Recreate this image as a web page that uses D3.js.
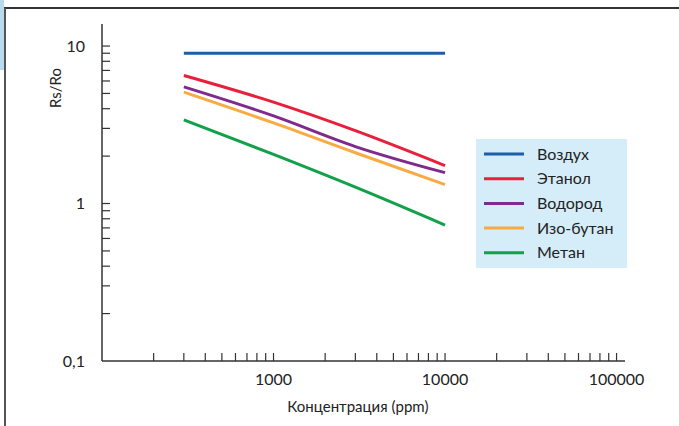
<!DOCTYPE html>
<html>
<head>
<meta charset="utf-8">
<script src="https://cdn.jsdelivr.net/npm/d3@7"></script>
<style>
  body { margin: 0; background: #fff; }
  text { font-family: Lato, "Open Sans", sans-serif; fill: #222; }
</style>
</head>
<body>
<div class="canvas"></div>
<script>
// data
const ppm = [300, 1000, 3000, 10000];
const air      = [9.0, 9.0, 9.0, 9.0];
const ethanol  = [6.5, 4.4, 2.9, 1.74];
const hydrogen = [5.5, 3.6, 2.3, 1.57];
const isobutane = [5.1, 3.25, 2.1, 1.32];
const methane  = [3.4, 2.05, 1.27, 0.73];

const seriesNames = ["Воздух", "Этанол", "Водород", "Изо-бутан", "Метан"];
const seriesValues = [air, ethanol, hydrogen, isobutane, methane];
const colors = ["#1b5fa8", "#e8203c", "#7f2b8e", "#f8aa45", "#12a14b"];

const xTickLabels = [1000, 10000, 100000];
const yTickLabels = [0.1, 1, 10];

const svg = d3.select(".canvas")
              .append("svg")
              .attr("width", 679)
              .attr("height", 426);

// frame
svg.append("rect").attr("x", 0).attr("y", 0).attr("width", 4).attr("height", 70).attr("fill", "#b9d9ec");
svg.append("line").attr("x1", 4).attr("x2", 679).attr("y1", 8).attr("y2", 8)
   .attr("stroke", "#333").attr("stroke-width", 2);
svg.append("line").attr("x1", 5).attr("x2", 5).attr("y1", 8).attr("y2", 426)
   .attr("stroke", "#555").attr("stroke-width", 2);

const x = d3.scaleLog().domain([100, 112000]).range([102, 625]);
const y = d3.scaleLog().domain([0.1, 13.8]).range([361, 24]);

// axes lines
svg.append("line").attr("x1", x.range()[0]).attr("x2", x.range()[1])
   .attr("y1", 361).attr("y2", 361).attr("stroke", "#333").attr("stroke-width", 1.5);
svg.append("line").attr("x1", 102).attr("x2", 102)
   .attr("y1", y.range()[1]).attr("y2", 361).attr("stroke", "#333").attr("stroke-width", 1.5);

// x ticks
const xTicks = [];
for (let d = 100; d <= 10000; d *= 10)
  for (let k = 1; k <= 10; k++) if (d * k > 100 && !(k === 10 && d < 10000)) xTicks.push(d * k);
const uniqX = Array.from(new Set(xTicks)).filter(v => v <= 100000);
svg.selectAll(".xt").data(uniqX).enter().append("line")
   .attr("x1", d => x(d)).attr("x2", d => x(d))
   .attr("y1", 361).attr("y2", 353)
   .attr("stroke", "#333").attr("stroke-width", 1.2);
svg.selectAll(".xl").data(xTickLabels).enter().append("text")
   .attr("x", d => x(d)).attr("y", 385)
   .attr("text-anchor", "middle").attr("font-size", 16)
   .text(d => d);

// y ticks
const yTicks = [];
for (let d = 0.1; d < 10; d *= 10)
  for (let k = 1; k <= 10; k++) if (d * k > 0.1 + 1e-9) yTicks.push(+(d * k).toFixed(2));
const uniqY = Array.from(new Set(yTicks));
svg.selectAll(".yt").data(uniqY).enter().append("line")
   .attr("x1", 102).attr("x2", 110)
   .attr("y1", d => y(d)).attr("y2", d => y(d))
   .attr("stroke", "#333").attr("stroke-width", 1.2);
svg.selectAll(".yl").data(yTickLabels).enter().append("text")
   .attr("x", 85).attr("y", d => y(d)).attr("dy", "0.35em")
   .attr("text-anchor", "end").attr("font-size", 16)
   .text(d => String(d).replace(".", ","));

// axis titles
svg.append("text").attr("x", 358).attr("y", 412)
   .attr("text-anchor", "middle").attr("font-size", 15)
   .text("Концентрация (ppm)");
svg.append("text").attr("transform", "translate(61,88) rotate(-90)")
   .attr("text-anchor", "middle").attr("font-size", 15)
   .text("Rs/Ro");

// curves
const line = d3.line()
               .x(d => x(d[0]))
               .y(d => y(d[1]))
               .curve(d3.curveMonotoneX);

seriesValues.forEach((vals, i) => {
  svg.append("path")
     .datum(ppm.map((p, j) => [p, vals[j]]))
     .attr("d", line)
     .attr("fill", "none")
     .attr("stroke", colors[i])
     .attr("stroke-width", 3);
});

// legend
const legend = svg.append("g");
legend.append("rect").attr("x", 476).attr("y", 139).attr("width", 151).attr("height", 129)
      .attr("fill", "#d5edf9");
const items = legend.selectAll("g.item").data(seriesNames).enter().append("g")
      .attr("transform", (d, i) => `translate(0,${154 + i * 24.7})`);
items.append("line").attr("x1", 484).attr("x2", 524).attr("y1", 0).attr("y2", 0)
     .attr("stroke", (d, i) => colors[i]).attr("stroke-width", 3);
items.append("text").attr("x", 537).attr("y", 0).attr("dy", "0.35em")
     .attr("font-size", 16).text(d => d);
</script>
</body>
</html>
